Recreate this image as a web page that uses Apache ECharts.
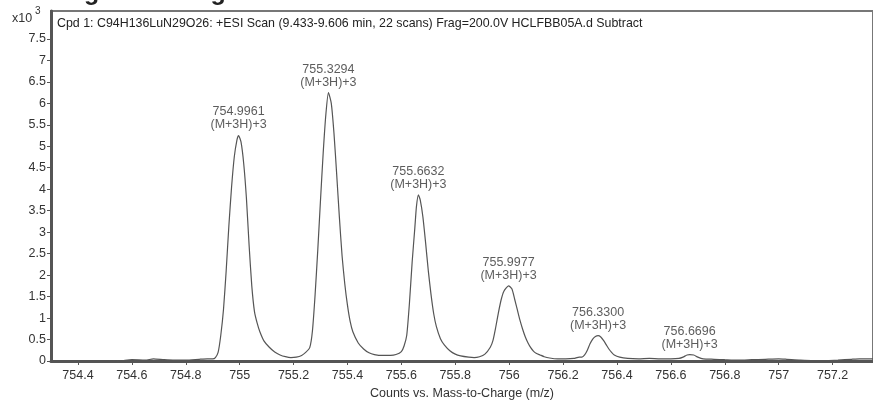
<!DOCTYPE html>
<html>
<head>
<meta charset="utf-8">
<script src="https://cdn.jsdelivr.net/npm/echarts@6/dist/echarts.min.js"></script>
<style>
  html, body { margin: 0; padding: 0; background: #fff; }
  #chart { width: 873px; height: 405px; }
</style>
</head>
<body>
<div id="chart"></div>
<script>
// spectrum trace, m/z vs counts (x10^3)
const mz = [
  754.30, 754.40, 754.50, 754.57, 754.60, 754.65, 754.68, 754.72, 754.76, 754.80, 754.85, 754.88,
  754.90, 754.91, 754.92, 754.93, 754.94, 754.95, 754.96, 754.97, 754.98, 754.99, 754.996,
  755.005, 755.015, 755.025, 755.035, 755.045, 755.055, 755.065, 755.075, 755.09, 755.11, 755.13,
  755.15, 755.17, 755.19, 755.21, 755.23, 755.245, 755.26, 755.27, 755.28, 755.29, 755.30, 755.31,
  755.32, 755.3294, 755.34, 755.35, 755.36, 755.37, 755.38, 755.39, 755.40, 755.41, 755.42, 755.44,
  755.46, 755.48, 755.50, 755.53, 755.56, 755.58, 755.60, 755.61, 755.62, 755.63, 755.64, 755.65,
  755.656, 755.6632, 755.67, 755.68, 755.69, 755.70, 755.71, 755.72, 755.73, 755.745, 755.76, 755.78,
  755.80, 755.82, 755.85, 755.87, 755.89, 755.91, 755.93, 755.94, 755.95, 755.96, 755.97, 755.98,
  755.9977, 756.01, 756.02, 756.03, 756.04, 756.05, 756.06, 756.07, 756.08, 756.09, 756.10, 756.115,
  756.13, 756.15, 756.18, 756.21, 756.24, 756.26, 756.27, 756.28, 756.29, 756.30, 756.31, 756.32,
  756.33, 756.34, 756.35, 756.36, 756.37, 756.38, 756.39, 756.41, 756.44, 756.48, 756.52, 756.56,
  756.60, 756.63, 756.645, 756.66, 756.67, 756.685, 756.70, 756.72, 756.76, 756.80, 756.85, 756.90,
  756.95, 757.00, 757.03, 757.08, 757.13, 757.18, 757.22, 757.27, 757.30, 757.35
];
const counts = [
  0.00, 0.00, 0.00, 0.01, 0.03, 0.02, 0.05, 0.03, 0.02, 0.02, 0.04, 0.05,
  0.05, 0.08, 0.20, 0.60, 1.20, 2.10, 3.15, 4.05, 4.75, 5.15, 5.25,
  5.10, 4.60, 3.80, 2.70, 1.75, 1.15, 0.88, 0.68, 0.47, 0.32, 0.21,
  0.14, 0.10, 0.08, 0.09, 0.13, 0.20, 0.31, 0.70, 1.55, 2.60, 3.75, 4.85,
  5.75, 6.25, 6.00, 5.30, 4.35, 3.35, 2.45, 1.80, 1.30, 0.92, 0.68, 0.42,
  0.28, 0.19, 0.15, 0.13, 0.13, 0.15, 0.22, 0.35, 0.60, 1.35, 2.30, 3.10,
  3.60, 3.87, 3.75, 3.35, 2.75, 2.10, 1.55, 1.10, 0.80, 0.52, 0.37, 0.24,
  0.16, 0.12, 0.09, 0.08, 0.10, 0.16, 0.32, 0.48, 0.78, 1.12, 1.42, 1.62,
  1.75, 1.68, 1.45, 1.20, 0.95, 0.74, 0.56, 0.42, 0.31, 0.23, 0.18, 0.14,
  0.10, 0.07, 0.05, 0.05, 0.06, 0.09, 0.09, 0.14, 0.25, 0.40, 0.51, 0.57,
  0.59, 0.56, 0.48, 0.38, 0.28, 0.20, 0.14, 0.09, 0.06, 0.05, 0.06, 0.05,
  0.05, 0.06, 0.09, 0.14, 0.15, 0.14, 0.09, 0.05, 0.04, 0.03, 0.02, 0.03,
  0.04, 0.05, 0.04, 0.02, 0.01, 0.01, 0.02, 0.04, 0.05, 0.05
];

// annotated peaks
const peakMz = [754.9961, 755.3294, 755.6632, 755.9977, 756.3300, 756.6696];
const peakCounts = [5.25, 6.25, 3.87, 1.75, 0.59, 0.15];
const peakLabels = ['754.9961', '755.3294', '755.6632', '755.9977', '756.3300', '756.6696'];
const peakIon = '(M+3H)+3';

const xTicks = [754.4, 754.6, 754.8, 755, 755.2, 755.4, 755.6, 755.8, 756, 756.2, 756.4, 756.6, 756.8, 757, 757.2];
const yTicks = [0, 0.5, 1, 1.5, 2, 2.5, 3, 3.5, 4, 4.5, 5, 5.5, 6, 6.5, 7, 7.5];

const font = '"Liberation Sans", Arial, sans-serif';
const chart = echarts.init(document.getElementById('chart'));

chart.setOption({
  animation: false,
  textStyle: { fontFamily: font },
  title: [
    {
      text: 'Charge-state region',
      left: 22,
      top: -24,
      textStyle: { fontSize: 25, fontWeight: 'bold', color: '#222', fontFamily: font }
    },
    {
      text: 'Cpd 1: C94H136LuN29O26: +ESI Scan (9.433-9.606 min, 22 scans) Frag=200.0V HCLFBB05A.d Subtract',
      left: 52,
      top: 13,
      textStyle: { fontSize: 12.4, fontWeight: 'normal', color: '#222', fontFamily: font }
    }
  ],
  graphic: [
    {
      type: 'text',
      left: 12,
      top: 6,
      style: {
        text: '{a|x10}{b| 3}',
        rich: {
          a: { fontSize: 12.5, fill: '#333', fontFamily: font, padding: [6, 0, 0, 0] },
          b: { fontSize: 10, fill: '#333', fontFamily: font, verticalAlign: 'top' }
        }
      }
    }
  ],
  grid: {
    left: 51,
    top: 11,
    right: -3,
    bottom: 41,
    show: true,
    borderColor: '#777',
    borderWidth: 2
  },
  xAxis: {
    type: 'value',
    min: 754.3,
    max: 757.35,
    name: 'Counts vs. Mass-to-Charge (m/z)',
    nameLocation: 'middle',
    nameGap: 26,
    nameTextStyle: { fontSize: 12.5, color: '#333' },
    axisLine: { show: true, onZero: false, lineStyle: { color: '#555', width: 3 } },
    axisTick: { show: true, length: 4, customValues: xTicks, lineStyle: { color: '#555' } },
    axisLabel: { customValues: xTicks, fontSize: 12.5, color: '#333', margin: 8, formatter: v => String(v) },
    splitLine: { show: false }
  },
  yAxis: {
    type: 'value',
    min: 0,
    max: 8.15,
    axisLine: { show: true, onZero: false, lineStyle: { color: '#555', width: 3 } },
    axisTick: { show: true, length: 4, customValues: yTicks, lineStyle: { color: '#555' } },
    axisLabel: { customValues: yTicks, fontSize: 12.5, color: '#333', margin: 5, formatter: v => String(v) },
    splitLine: { show: false }
  },
  series: [
    {
      type: 'line',
      data: mz.map((m, i) => [m, counts[i]]),
      showSymbol: false,
      smooth: 0.2,
      lineStyle: { color: '#555', width: 1.2 },
      z: 3
    },
    {
      type: 'scatter',
      data: peakMz.map((m, i) => [m, peakCounts[i], peakLabels[i]]),
      symbolSize: 0,
      label: {
        show: true,
        position: 'top',
        distance: 4,
        fontSize: 12.5,
        lineHeight: 13,
        color: '#333',
        formatter: p => p.data[2] + '\n' + peakIon
      }
    }
  ]
});
</script>
</body>
</html>
